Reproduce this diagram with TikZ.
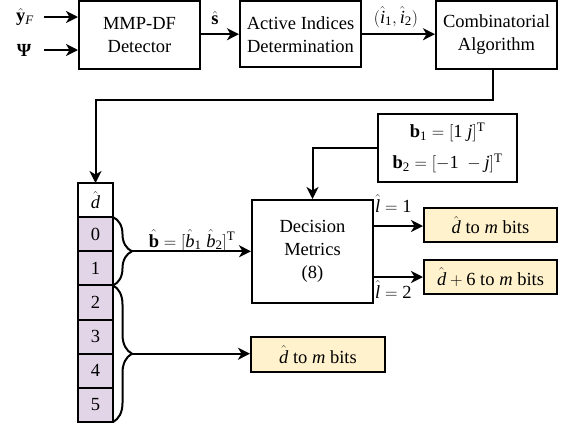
\documentclass[tikz,border=0pt]{standalone}
\usepackage{amsmath}
\usepackage{mathspec}
\setmainfont{Liberation Serif}
\setmathsfont(Digits,Latin,Greek)[Numbers={Lining,Proportional}]{Liberation Serif}
\setmathrm{Liberation Serif}
\usetikzlibrary{arrows.meta,decorations.pathreplacing,calc}
\definecolor{cellpurple}{HTML}{E1D5E7}
\definecolor{outyellow}{HTML}{FFF2CC}
\begin{document}
\begin{tikzpicture}[x=1pt,y=1pt,
  ln/.style={line width=2pt},
  arr/.style={ln, -{Stealth[length=12pt,width=12pt,inset=3.5pt]}},
  font=\fontsize{18.5}{23}\selectfont,
  box/.style={draw, ln, inner sep=0pt, align=center},
  cell/.style={draw, ln, inner sep=0pt, outer sep=0pt, minimum width=35pt, minimum height=34.14pt, fill=cellpurple},
  outbox/.style={draw, ln, inner sep=0pt, fill=outyellow, minimum width=133pt, minimum height=34pt},
  lbl/.style={inner sep=1pt},
  brc/.style={ln, decorate, decoration={brace, amplitude=19pt}}]
\useasboundingbox (0,-426) rectangle (569,0);

% top row
\node[box, minimum width=121pt, minimum height=68pt] (det) at (139.5,-35) {MMP-DF\\Detector};
\node[box, minimum width=121pt, minimum height=66pt] (act) at (300.5,-34.2) {Active Indices\\Determination};
\node[box, minimum width=121pt, minimum height=68pt] (comb) at (496.5,-35) {Combinatorial\\Algorithm};

\node[lbl] (ylab) at (25,-17) {$\hat{\mathbf{y}}_F$};
\node[lbl] (plab) at (24,-50) {\textbf{Ψ}};
\coordinate (ys) at (44,-17);
\coordinate (ps) at (44,-50);
\draw[arr] (ys) -- (ys -| det.west);
\draw[arr] (ps) -- (ps -| det.west);

\draw[arr] (det.east |- act.west) -- (act.west);
\node[lbl] (slab) at (215,-18) {$\hat{\mathbf{s}}$};
\draw[arr] (act.east) -- (act.east -| comb.west);
\node[lbl] (ilab) at (396,-17) {$(\hat{i}_1,\hat{i}_2)$};

% column
\node[cell, fill=white] (dh) at (95.5,-200.07) {$\hat{d}$};
\node[cell, anchor=north] (c0) at (dh.south) {0};
\node[cell, anchor=north] (c1) at (c0.south) {1};
\node[cell, anchor=north] (c2) at (c1.south) {2};
\node[cell, anchor=north] (c3) at (c2.south) {3};
\node[cell, anchor=north] (c4) at (c3.south) {4};
\node[cell, anchor=north] (c5) at (c4.south) {5};

% feedback line
\coordinate (k1) at (493,-100);
\draw[arr] (comb.south -| k1) -- (k1) -| (dh.north);

% decision box and b box
\node[box, minimum width=121pt, minimum height=103pt] (dm) at (312.5,-251.5)
  {\fontsize{18.5}{24.5}\selectfont Decision\\Metrics\\(8)};
\node[box, minimum width=139pt, minimum height=68pt] (bb) at (447.5,-148)
  {$\mathbf{b}_1=[1\ j]^{\mathrm{T}}$\\[8pt]$\mathbf{b}_2=[-1\ -j]^{\mathrm{T}}$};
\draw[arr] (bb.west) -| (dm.north);

% braces
\draw[brc] (c0.north east) -- (c1.south east);
\draw[brc] (c2.north east) -- (c5.south east);
\coordinate (t1) at ([xshift=19pt]$(c0.north east)!0.5!(c1.south east)$);
\coordinate (t2) at ([xshift=19pt]$(c2.north east)!0.5!(c5.south east)$);

\draw[arr] (t1) -- (t1 -| dm.west);
\node[lbl, anchor=base] (blab) at (192,-247) {$\hat{\mathbf{b}}=[\hat{b}_1\ \hat{b}_2]^{\mathrm{T}}$};

% outputs
\node[outbox] (o1) at (490.5,-225) {$\hat{d}$ to $m$ bits};
\node[outbox] (o2) at (490.5,-277) {$\hat{d}+6$ to $m$ bits};
\node[outbox, minimum width=134pt, minimum height=35pt] (o3) at (318,-354.5) {$\hat{d}$ to $m$ bits};

\coordinate (a1) at (372,-226);
\coordinate (a2) at (372,-277);
\draw[arr] (dm.east |- a1) -- (a1 -| o1.west);
\draw[arr] (dm.east |- a2) -- (a2 -| o2.west);
\node[lbl, anchor=base west] (l1) at (374,-212) {$\hat{l}=1$};
\node[lbl, anchor=base west] (l2) at (374,-298) {$\hat{l}=2$};

\draw[arr] (t2) -- (t2 -| o3.west);
\end{tikzpicture}
\end{document}
